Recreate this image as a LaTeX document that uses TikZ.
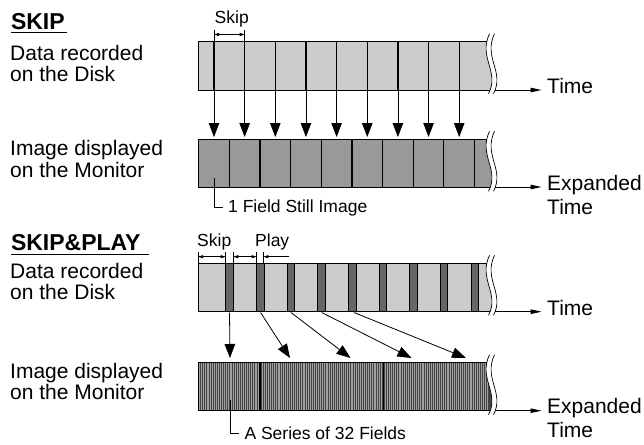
\documentclass[tikz,border=0pt]{standalone}
\usepackage{fontspec}
\setmainfont{Liberation Sans}
\usetikzlibrary{arrows.meta}
\definecolor{lightg}{HTML}{CCCCCC}
\definecolor{midg}{HTML}{999999}
\definecolor{darkg}{HTML}{666666}
\definecolor{denseg}{HTML}{444444}
\definecolor{stripeg}{HTML}{A0A0A0}
\newcommand\wavebreak[2]{%
  \begin{scope}[shift={(#1,#2)}]
    \fill[white] (0.5,-8) .. controls (-11,16) and (11,30) .. (-0.5,52) -- (25,52) -- (25,-8) -- cycle;
    \draw[line width=0.7pt] (0.5,-8) .. controls (-11,16) and (11,30) .. (-0.5,52);
    \draw[line width=0.7pt] (5.5,-8) .. controls (-6,16) and (16,30) .. (4.5,52);
  \end{scope}}
\begin{document}
\begin{tikzpicture}[x=1pt,y=-1pt,
  big/.style={font=\fontsize{21}{22}\selectfont, inner sep=0pt, anchor=base west},
  title/.style={font=\fontsize{23}{24}\selectfont\bfseries, inner sep=0pt, anchor=base west},
  small/.style={font=\fontsize{17.5}{18}\selectfont, inner sep=0pt, anchor=base west},
  bigarrow/.style={-{Triangle[length=14pt,width=10.5pt]}, line width=0.8pt},
  timearrow/.style={-{Triangle[length=11pt,width=4.5pt]}, line width=0.8pt},
  dimarrow/.style={{Triangle[length=5pt,width=3pt]}-{Triangle[length=5pt,width=3pt]}, line width=0.6pt},
  onearrow/.style={-{Triangle[length=5pt,width=3pt]}, line width=0.6pt},
  stripbox/.style={draw=black, line width=1pt},
  thin/.style={line width=0.7pt}
]
\useasboundingbox (0,0) rectangle (644,444);

% ---------------- left labels ----------------
\node[title] (t1) at (10.8,30) {SKIP};
\draw[line width=1.3pt] (11,32.5) -- (67,32.5);
\node[big] (a1) at (10,60) {Data recorded};
\node[big] (a2) at (10,81.5) {on the Disk};
\node[big] (b1) at (10,155) {Image displayed};
\node[big] (b2) at (10,177) {on the Monitor};

\node[title] (t2) at (10.8,250) {SKIP\&PLAY};
\draw[line width=1.3pt] (11,254.5) -- (149,254.5);
\node[big] (c1) at (10,278.3) {Data recorded};
\node[big] (c2) at (10,299.5) {on the Disk};
\node[big] (d1) at (10,378.3) {Image displayed};
\node[big] (d2) at (10,399.5) {on the Monitor};

% ---------------- SKIP : strip 1 ----------------
\filldraw[fill=lightg, stripbox] (198,41.7) rectangle (496,90);
\foreach \k in {0,...,8} {
  \draw[line width=1.2pt] ({214+30.65*\k},41.7) -- ({214+30.65*\k},90);
}
\wavebreak{489}{41.7}
% Skip dimension
\draw[thin] (214,30) -- (214,42);
\draw[thin] (244.65,30) -- (244.65,42);
\draw[dimarrow] (214,34.5) -- (244.65,34.5);
\node[small] (sk1) at (214.5,23.3) {Skip};

% ---------------- SKIP : strip 2 ----------------
\filldraw[fill=midg, stripbox] (198,139.3) rectangle (496,187);
\foreach \k in {0,...,8} {
  \draw[line width=1.2pt] ({229.3+30.65*\k},139.3) -- ({229.3+30.65*\k},187);
}
\wavebreak{489}{139.3}

% arrows strip1 -> strip2
\foreach \k in {0,...,8} {
  \coordinate (u\k) at ({214+30.65*\k},91);
  \coordinate (v\k) at ({214+30.65*\k},137);
  \draw[bigarrow] (u\k) -- (v\k);
}

% 1 Field Still Image
\node[small] (fsi) at (228,212) {1 Field Still Image};
\coordinate (fsis) at (214,178);
\draw[thin] (fsis) |- ([xshift=-5pt]fsi.west);

% time axes section 1
\coordinate (ax1) at (495,90);
\node[big] (tm1) at (547,93.5) {Time};
\draw[timearrow] (ax1) -- (541.5,90);
\coordinate (ax2) at (495,187);
\node[big] (ex1) at (547,190.5) {Expanded};
\node[big] (tm2) at (547,214) {Time};
\draw[timearrow] (ax2) -- (541.5,187);

% ---------------- SKIP&PLAY : strip 3 ----------------
\filldraw[fill=lightg, stripbox] (198,263.3) rectangle (496,311.7);
\foreach \k in {0,...,8} {
  \filldraw[fill=darkg, draw=black, line width=0.8pt] ({225.7+30.65*\k},263.3) rectangle ({233.3+30.65*\k},311.7);
}
\wavebreak{489}{263.3}

% Skip / Play dimensions
\foreach \x in {198,225.7,233.3,256.7,263.3} {
  \draw[thin] (\x,252) -- (\x,263.3);
}
\draw[dimarrow] (198,256.7) -- (225.7,256.7);
\draw[dimarrow] (233.3,256.7) -- (256.7,256.7);
\draw[onearrow] (289,256.7) -- (263.3,256.7);
\node[small] (sk2) at (197,246.7) {Skip};
\node[small] (pl) at (255,246.7) {Play};

% ---------------- SKIP&PLAY : strip 4 ----------------
\fill[denseg] (198,362.7) rectangle (496,410.7);
\foreach \i in {0,...,150} {
  \draw[stripeg, line width=0.7pt] ({199.2+1.92*\i},362.7) -- ({199.2+1.92*\i},410.7);
}
\draw[line width=1.4pt, black] (260,362.7) -- (260,410.7);
\draw[line width=1.4pt, black] (383.3,362.7) -- (383.3,410.7);
\draw[stripbox] (198,362.7) rectangle (496,410.7);
\wavebreak{489}{362.7}

% arrows strip3 -> strip4
\coordinate (p0) at (229.5,312.5);
\coordinate (p1) at (260.5,312.5);
\coordinate (p2) at (291,312.5);
\coordinate (p3) at (321.7,312.5);
\coordinate (p4) at (354,312.5);
\coordinate (q0) at (230,358);
\coordinate (q1) at (290,358);
\coordinate (q2) at (350.5,358);
\coordinate (q3) at (411.5,358);
\coordinate (q4) at (466,358);
\foreach \k in {0,...,4} {
  \draw[bigarrow] (p\k) -- (q\k);
}

% A Series of 32 Fields
\node[small] (asf) at (244.3,439.5) {A Series of 32 Fields};
\coordinate (asfs) at (230,400);
\draw[thin] (asfs) |- ([xshift=-5pt]asf.west);

% time axes section 2
\coordinate (ax3) at (495,311.7);
\node[big] (tm3) at (547,315.2) {Time};
\draw[timearrow] (ax3) -- (541.5,311.7);
\coordinate (ax4) at (495,410.7);
\node[big] (ex2) at (547,413.8) {Expanded};
\node[big] (tm4) at (547,437.3) {Time};
\draw[timearrow] (ax4) -- (541.5,410.7);
\end{tikzpicture}
\end{document}
